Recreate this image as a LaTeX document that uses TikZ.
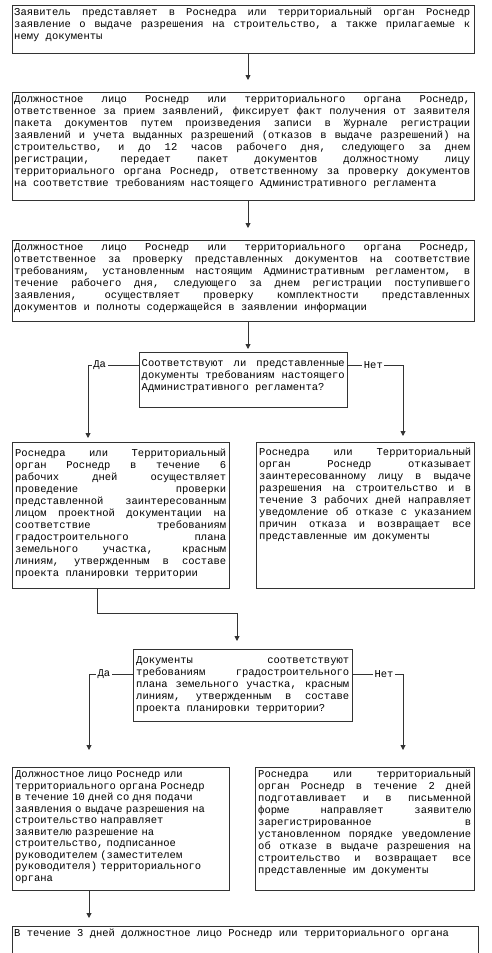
\documentclass[tikz,border=0pt]{standalone}
\usepackage{fontspec}
\setmainfont{Liberation Mono}
\usetikzlibrary{arrows.meta,calc}
\newcommand\boxfont[1]{\fontsize{10.5}{#1}\selectfont\fontdimen3\font=8pt\fontdimen4\font=0pt\hyphenpenalty=10000\exhyphenpenalty=10000\pretolerance=-1\tolerance=10000\hbadness=10000\emergencystretch=0pt}
\newcommand\st{\rule{0pt}{9pt}}
\tikzset{
  frame/.style={draw=black!80, line width=1.1pt, inner sep=0pt, anchor=north west},
  txt/.style={inner sep=0pt, anchor=north west, align=justify},
  conn/.style={draw=black!80, line width=0.9pt},
  arr/.style={conn, -{Triangle[length=5pt,width=5pt]}},
  lbl/.style={fill=white, inner sep=1.5pt, font=\boxfont{9}},
}
\begin{document}
\begin{tikzpicture}[x=1pt,y=-1pt]
\useasboundingbox (0,0) rectangle (492,953);
\fill[white] (0,0) rectangle (492,953);
\clip (0,0) rectangle (492,953);
% boxes
\node[frame, minimum width=462pt, minimum height=48pt] (b1) at (12,5) {};
\node[frame, minimum width=462pt, minimum height=108pt] (b2) at (12,92) {};
\node[frame, minimum width=462pt, minimum height=81pt] (b3) at (12,240) {};
\node[frame, minimum width=208pt, minimum height=55pt] (d1) at (139,352) {};
\node[frame, minimum width=217pt, minimum height=146pt] (b4) at (12,442) {};
\node[frame, minimum width=218pt, minimum height=146pt] (b5) at (256,442) {};
\node[frame, minimum width=219pt, minimum height=72pt] (d2) at (133,649) {};
\node[frame, minimum width=217pt, minimum height=123pt] (b6) at (12,767) {};
\node[frame, minimum width=219pt, minimum height=123pt] (b7) at (255,767) {};
\node[frame, minimum width=466pt, minimum height=60pt] (b8) at (12,926) {};
% texts
\node[txt, text width=456pt] (t1) at ($(b1.north west)+(2,1.5)$) {\boxfont{12}\st Заявитель представляет в Роснедра или территориальный орган Роснедр\linebreak заявление о выдаче разрешения на строительство, а также прилагаемые к\linebreak нему документы};
\node[txt, text width=456pt] (t2) at ($(b2.north west)+(2,1.5)$) {\boxfont{12}\st Должностное лицо Роснедр или территориального органа Роснедр,\linebreak ответственное за прием заявлений, фиксирует факт получения от заявителя\linebreak пакета документов путем произведения записи в Журнале регистрации\linebreak заявлений и учета выданных разрешений (отказов в выдаче разрешений) на\linebreak строительство, и до 12 часов рабочего дня, следующего за днем\linebreak регистрации, передает пакет документов должностному лицу\linebreak территориального органа Роснедр, ответственному за проверку документов\linebreak на соответствие требованиям настоящего Административного регламента};
\node[txt, text width=456pt] (t3) at ($(b3.north west)+(2,1.5)$) {\boxfont{12}\st Должностное лицо Роснедр или территориального органа Роснедр,\linebreak ответственное за проверку представленных документов на соответствие\linebreak требованиям, установленным настоящим Административным регламентом, в\linebreak течение рабочего дня, следующего за днем регистрации поступившего\linebreak заявления, осуществляет проверку комплектности представленных\linebreak документов и полноты содержащейся в заявлении информации};
\node[txt, text width=203pt] (t4) at ($(d1.north west)+(2.5,5)$) {\boxfont{11}\st Соответствуют ли представленные\linebreak документы требованиям настоящего\linebreak Административного регламента?};
\node[txt, text width=211pt] (t5) at ($(b4.north west)+(3,5)$) {\boxfont{12.2}\st Роснедра или Территориальный\linebreak орган Роснедр в течение 6\linebreak рабочих дней осуществляет\linebreak проведение проверки\linebreak представленной заинтересованным\linebreak лицом проектной документации на\linebreak соответствие требованиям\linebreak градостроительного плана\linebreak земельного участка, красным\linebreak линиям, утвержденным в составе\linebreak проекта планировки территории};
\node[txt, text width=212pt] (t6) at ($(b5.north west)+(3,4.5)$) {\boxfont{12}\st Роснедра или Территориальный\linebreak орган Роснедр отказывает\linebreak заинтересованному лицу в выдаче\linebreak разрешения на строительство и в\linebreak течение 3 рабочих дней направляет\linebreak уведомление об отказе с указанием\linebreak причин отказа и возвращает все\linebreak представленные им документы};
\node[txt, text width=213pt] (t7) at ($(d2.north west)+(3,5)$) {\boxfont{12}\st Документы соответствуют\linebreak требованиям градостроительного\linebreak плана земельного участка, красным\linebreak линиям, утвержденным в составе\linebreak проекта планировки территории?};
\node[txt, text width=211pt, align=left] (t8) at ($(b6.north west)+(3,1.5)$) {\boxfont{11.5}\st Должностное лицо Роснедр или\\ территориального органа Роснедр\\ в течение 10 дней со дня подачи\\ заявления о выдаче разрешения на\\ строительство направляет\\ заявителю разрешение на\\ строительство, подписанное\\ руководителем (заместителем\\ руководителя) территориального\\ органа};
\node[txt, text width=213pt] (t9) at ($(b7.north west)+(3,1.5)$) {\boxfont{10.6}\st Роснедра или территориальный\linebreak орган Роснедр в течение 2 дней\linebreak подготавливает и в письменной\linebreak форме направляет заявителю\linebreak зарегистрированное в\linebreak установленном порядке уведомление\linebreak об отказе в выдаче разрешения на\linebreak строительство и возвращает все\linebreak представленные им документы};
\node[txt, text width=461pt] (t10) at ($(b8.north west)+(2,1.5)$) {\boxfont{9}\parfillskip=0pt\st В течение 3 дней должностное лицо Роснедр или территориального органа};
% connectors
\coordinate (a1) at (248,80);
\coordinate (a2) at (248,228);
\coordinate (a3) at (248,349);
\draw[arr] (b1.south -| a1) -- (a1);
\draw[arr] (b2.south -| a2) -- (a2);
\draw[arr] (b3.south -| a3) -- (a3);
\coordinate (p1) at (88,365);
\coordinate (p1t) at (88,438);
\coordinate (q1) at (403,365);
\coordinate (q1t) at (403,436);
\draw[arr] (p1 -| d1.west) -- node[lbl,pos=0.77]{Да} (p1) -- (p1t);
\draw[arr] (q1 -| d1.east) -- node[lbl,pos=0.46]{Нет} (q1) -- (q1t);
\coordinate (k1) at (97,613);
\coordinate (k2) at (237,613);
\coordinate (k3) at (237,641);
\draw[arr] (b4.south -| k1) -- (k1) -- (k2) -- (k3);
\coordinate (p2) at (89,674);
\coordinate (p2t) at (89,750);
\coordinate (q2) at (403,674);
\coordinate (q2t) at (403,750);
\draw[arr] (p2 -| d2.west) -- node[lbl,pos=0.66]{Да} (p2) -- (p2t);
\draw[arr] (q2 -| d2.east) -- node[lbl,pos=0.62]{Нет} (q2) -- (q2t);
\coordinate (a4) at (89,918);
\draw[arr] (b6.south -| a4) -- (a4);
\end{tikzpicture}
\end{document}
